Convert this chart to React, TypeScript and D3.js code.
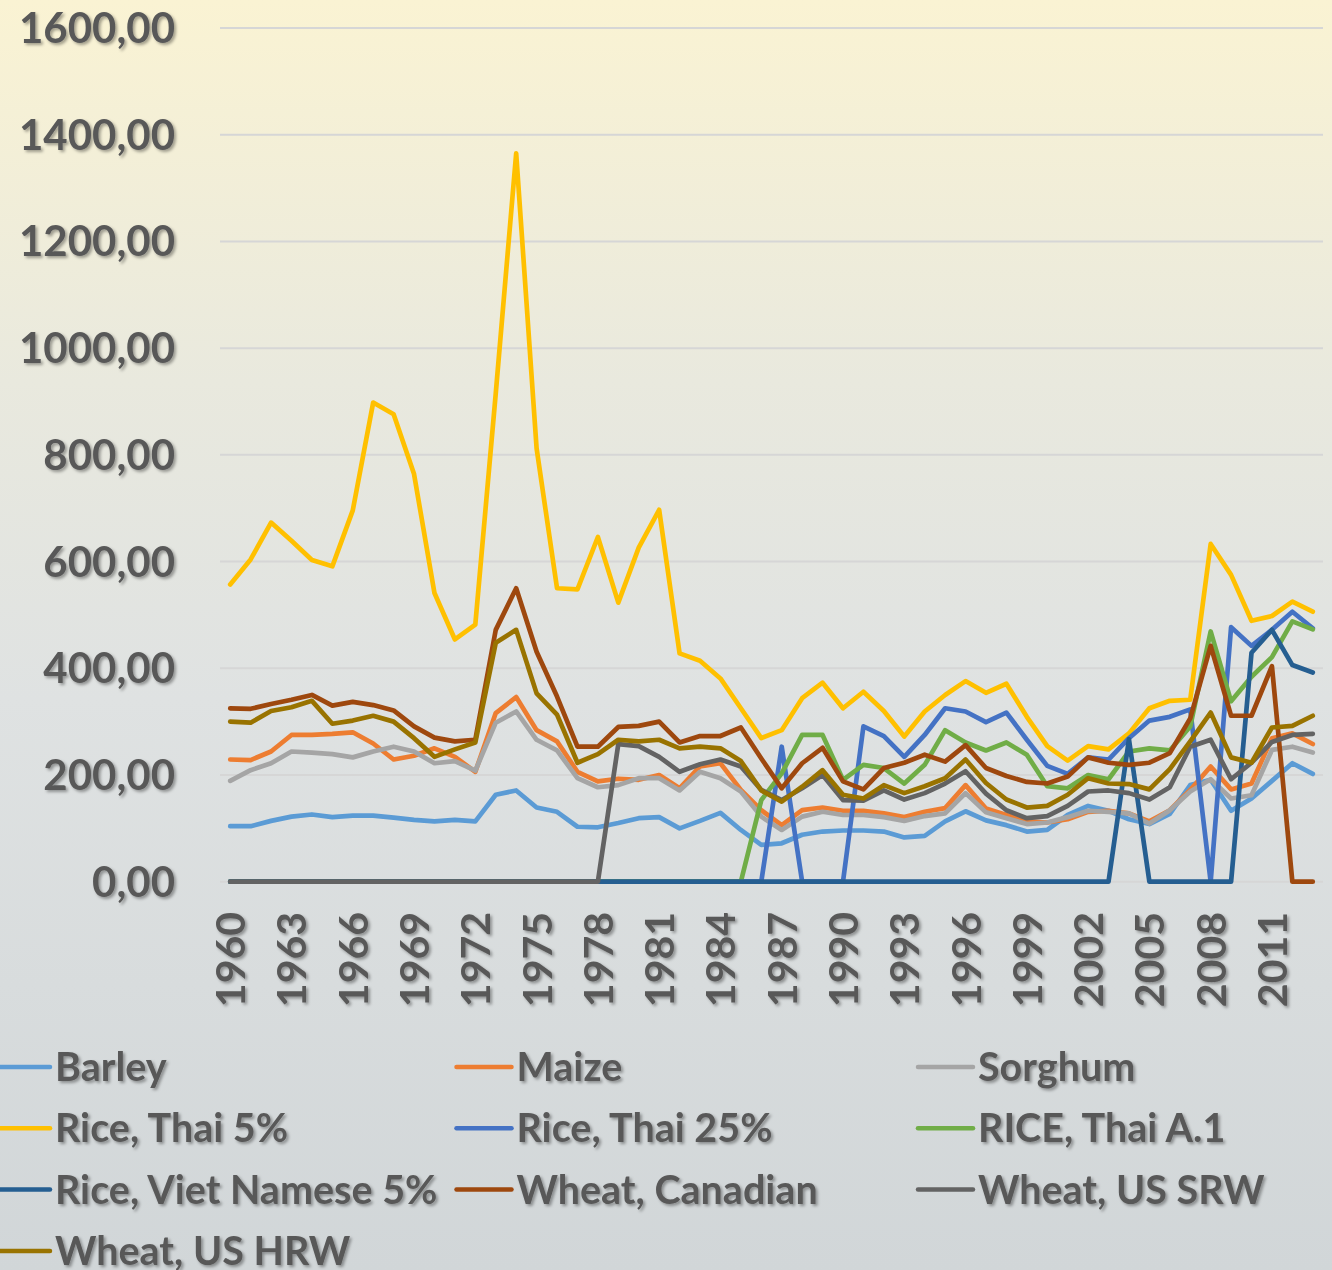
import React, { useEffect, useRef } from 'react';
import * as d3 from 'd3';

const years = d3.range(1960, 2014);
const yTicks = [0, 200, 400, 600, 800, 1000, 1200, 1400, 1600];

const barley = [104, 104, 114, 122, 126, 121, 124, 124, 120, 116, 113, 116, 113, 163, 171, 139, 131, 103, 102, 110, 119, 121, 100, 114, 129, 97, 69, 72, 88, 94, 96, 96, 94, 83, 86, 113, 132, 115, 106, 94, 97, 125, 142, 133, 117, 108, 127, 181, 191, 133, 156, 189, 222, 202];
const maize = [229, 228, 244, 275, 275, 277, 280, 259, 229, 236, 250, 234, 206, 316, 346, 284, 263, 206, 188, 193, 191, 200, 175, 216, 222, 172, 134, 106, 134, 139, 133, 133, 128, 121, 131, 138, 181, 137, 125, 113, 111, 117, 131, 133, 128, 113, 134, 172, 216, 173, 184, 269, 278, 258];
const sorghum = [189, 209, 222, 244, 242, 239, 233, 244, 253, 244, 222, 226, 208, 298, 319, 266, 246, 194, 177, 181, 194, 194, 171, 206, 194, 169, 122, 97, 122, 131, 125, 125, 121, 114, 123, 128, 166, 130, 119, 108, 111, 121, 133, 131, 128, 109, 134, 169, 192, 156, 162, 247, 253, 242];
const riceThai5 = [557, 604, 673, 639, 603, 591, 696, 898, 876, 764, 541, 454, 482, 915, 1365, 812, 550, 548, 646, 523, 626, 697, 428, 414, 381, 325, 269, 284, 344, 373, 325, 356, 320, 272, 319, 350, 376, 354, 371, 309, 254, 227, 254, 248, 278, 325, 339, 341, 633, 575, 489, 498, 525, 506];
const riceThai25 = [0, 0, 0, 0, 0, 0, 0, 0, 0, 0, 0, 0, 0, 0, 0, 0, 0, 0, 0, 0, 0, 0, 0, 0, 0, 0, 0, 253, 0, 0, 0, 291, 273, 234, 275, 325, 319, 299, 317, 266, 217, 202, 233, 229, 269, 302, 309, 323, 0, 477, 442, 472, 506, 475];
const riceThaiA1 = [0, 0, 0, 0, 0, 0, 0, 0, 0, 0, 0, 0, 0, 0, 0, 0, 0, 0, 0, 0, 0, 0, 0, 0, 0, 0, 153, 203, 275, 275, 191, 219, 213, 184, 219, 284, 261, 246, 261, 238, 179, 175, 200, 192, 244, 250, 246, 291, 469, 338, 384, 421, 488, 473];
const riceViet5 = [0, 0, 0, 0, 0, 0, 0, 0, 0, 0, 0, 0, 0, 0, 0, 0, 0, 0, 0, 0, 0, 0, 0, 0, 0, 0, 0, 0, 0, 0, 0, 0, 0, 0, 0, 0, 0, 0, 0, 0, 0, 0, 0, 0, 267, 0, 0, 0, 0, 0, 429, 472, 406, 392];
const wheatCanadian = [325, 324, 333, 341, 350, 330, 337, 331, 321, 291, 270, 263, 266, 472, 550, 431, 347, 253, 253, 290, 292, 300, 261, 273, 273, 289, 231, 175, 222, 251, 188, 173, 213, 223, 238, 225, 256, 213, 198, 187, 184, 197, 233, 223, 219, 223, 241, 306, 442, 311, 311, 404, 0, 0];
const wheatSRW = [0, 0, 0, 0, 0, 0, 0, 0, 0, 0, 0, 0, 0, 0, 0, 0, 0, 0, 0, 258, 254, 234, 206, 220, 229, 216, 172, 153, 175, 200, 153, 152, 171, 154, 166, 184, 207, 165, 134, 119, 123, 142, 169, 171, 166, 154, 177, 253, 266, 192, 223, 262, 275, 277];
const wheatHRW = [300, 298, 320, 327, 339, 296, 302, 311, 300, 269, 234, 248, 261, 448, 472, 353, 313, 223, 239, 266, 263, 266, 250, 253, 250, 226, 171, 150, 178, 209, 163, 156, 181, 166, 179, 194, 229, 185, 154, 139, 142, 163, 194, 184, 183, 173, 211, 263, 317, 233, 223, 289, 292, 311];

const seriesNames = ['Barley', 'Maize', 'Sorghum', 'Rice, Thai 5%', 'Rice, Thai 25%', 'RICE, Thai A.1', 'Rice, Viet Namese 5%', 'Wheat, Canadian', 'Wheat, US SRW', 'Wheat, US HRW'];
const seriesValues = [barley, maize, sorghum, riceThai5, riceThai25, riceThaiA1, riceViet5, wheatCanadian, wheatSRW, wheatHRW];
const colors = ['#5B9BD5', '#ED7D31', '#A5A5A5', '#FFC000', '#4472C4', '#70AD47', '#255E91', '#9E480E', '#636363', '#997300'];

const W = 1332;
const H = 1270;
const FONT = 'Lato, "Liberation Sans", sans-serif';
const TEXT = '#595959';

const App = () => {
  const svgRef = useRef<SVGSVGElement>(null);

  useEffect(() => {
    const root = d3.select(svgRef.current);
    root.selectAll('*').remove();

    const defs = root.append('defs');
    const grad = defs.append('linearGradient').attr('id', 'bg').attr('x1', 0).attr('y1', 0).attr('x2', 0).attr('y2', 1);
    grad.append('stop').attr('offset', '0%').attr('stop-color', '#FAF3D3');
    grad.append('stop').attr('offset', '30%').attr('stop-color', '#E9E9DE');
    grad.append('stop').attr('offset', '55%').attr('stop-color', '#DFE2E2');
    grad.append('stop').attr('offset', '100%').attr('stop-color', '#D1D6D8');

    const shadow = defs.append('filter').attr('id', 'shadow').attr('x', '-10%').attr('y', '-20%').attr('width', '130%').attr('height', '150%');
    shadow.append('feDropShadow').attr('dx', 2).attr('dy', 2).attr('stdDeviation', 1.4).attr('flood-color', '#000').attr('flood-opacity', 0.35);

    root.append('rect').attr('width', W).attr('height', H).attr('fill', 'url(#bg)');

    const x = d3.scaleBand<number>().domain(years).range([220, 1323]).padding(0);
    const cx = (yr: number) => (x(yr) as number) + x.bandwidth() / 2;
    const y = d3.scaleLinear().domain([0, 1600]).range([881.7, 28]);

    // gridlines
    root.append('g')
      .selectAll('line')
      .data(yTicks)
      .enter()
      .append('line')
      .attr('x1', 220)
      .attr('x2', 1323)
      .attr('y1', (d) => y(d))
      .attr('y2', (d) => y(d))
      .attr('stroke', '#D6D6D6')
      .attr('stroke-width', 2);

    // y labels
    root.append('g')
      .attr('filter', 'url(#shadow)')
      .selectAll('text')
      .data(yTicks)
      .enter()
      .append('text')
      .attr('x', 175)
      .attr('y', (d) => y(d) + 15)
      .attr('text-anchor', 'end')
      .attr('font-family', FONT)
      .attr('font-weight', 700)
      .attr('font-size', 42)
      .attr('fill', TEXT)
      .text((d) => d3.format('.2f')(d).replace('.', ','));

    // x labels every 3 years
    root.append('g')
      .attr('filter', 'url(#shadow)')
      .selectAll('text')
      .data(years.filter((yr) => (yr - 1960) % 3 === 0))
      .enter()
      .append('text')
      .attr('transform', (d) => `translate(${cx(d) + 15},912) rotate(-90)`)
      .attr('text-anchor', 'end')
      .attr('font-family', FONT)
      .attr('font-weight', 700)
      .attr('font-size', 41)
      .attr('fill', TEXT)
      .text((d) => d);

    const line = d3.line<number>()
      .x((_, i) => cx(years[i]))
      .y((d) => y(d));

    root.append('g')
      .selectAll('path')
      .data(seriesValues)
      .enter()
      .append('path')
      .attr('d', (d) => line(d))
      .attr('fill', 'none')
      .attr('stroke', (_, i) => colors[i])
      .attr('stroke-width', 4.7)
      .attr('stroke-linejoin', 'round')
      .attr('stroke-linecap', 'round');

    // legend, 3 columns
    const legend = root.append('g');
    const items = legend
      .selectAll('g')
      .data(seriesNames)
      .enter()
      .append('g')
      .attr('transform', (_, i) => `translate(${-5 + (i % 3) * 461.5},${1067 + Math.floor(i / 3) * 61.3})`);
    items.append('line')
      .attr('x1', 0)
      .attr('x2', 55)
      .attr('stroke', (_, i) => colors[i])
      .attr('stroke-width', 4.5)
      .attr('stroke-linecap', 'round');
    items.append('text')
      .attr('x', 60)
      .attr('y', 14)
      .attr('filter', 'url(#shadow)')
      .attr('font-family', FONT)
      .attr('font-weight', 700)
      .attr('font-size', 39.5)
      .attr('fill', TEXT)
      .text((d) => d);
  }, []);

  return (
    <svg ref={svgRef} width={W} height={H} style={{ position: 'absolute', left: 0, top: 0 }}></svg>
  );
};

export default App;
